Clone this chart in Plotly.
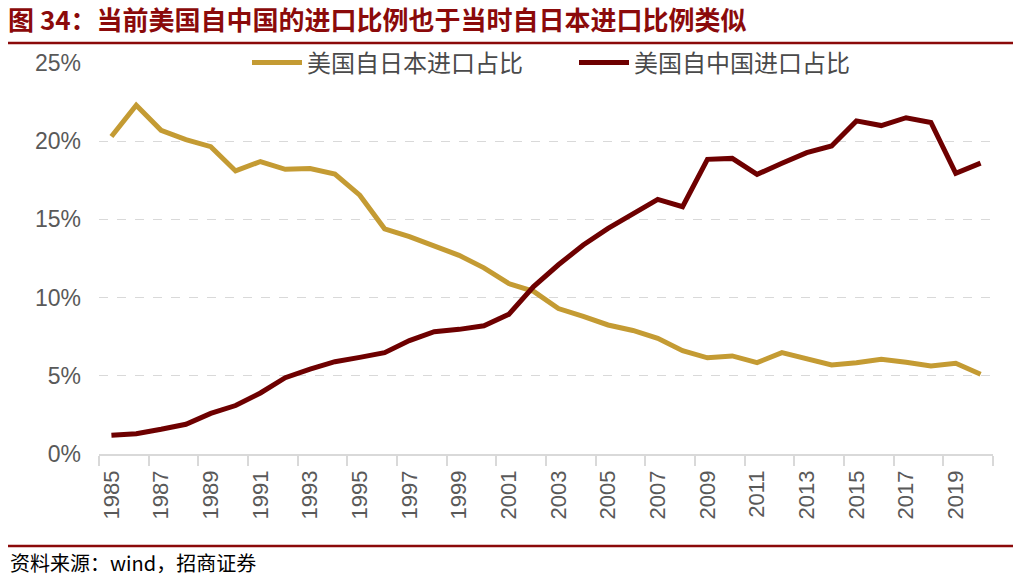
import plotly.graph_objects as go

years = list(range(1985, 2021))
japan_share = [20.3, 22.3, 20.7, 20.1, 19.65, 18.1, 18.7, 18.2, 18.25, 17.9,
               16.55, 14.4, 13.9, 13.3, 12.7, 11.9, 10.9, 10.4, 9.3, 8.8,
               8.25, 7.9, 7.4, 6.6, 6.15, 6.27, 5.84, 6.48, 6.11, 5.69,
               5.84, 6.05, 5.86, 5.63, 5.8, 5.1]
china_share = [1.2, 1.3, 1.58, 1.9, 2.6, 3.1, 3.9, 4.88, 5.43, 5.9,
               6.18, 6.48, 7.25, 7.82, 7.97, 8.2, 8.93, 10.7, 12.1, 13.36,
               14.43, 15.39, 16.28, 15.81, 18.84, 18.9, 17.88, 18.59, 19.27, 19.7,
               21.3, 21.0, 21.5, 21.2, 17.95, 18.6]
series_names = ["美国自日本进口占比", "美国自中国进口占比"]
y_ticks = [0, 5, 10, 15, 20, 25]
y_ticktext = ["0%", "5%", "10%", "15%", "20%", "25%"]
title_text = "图 34：当前美国自中国的进口比例也于当时自日本进口比例类似"
source_text = "资料来源：wind，招商证券"

fig = go.Figure()
fig.add_trace(go.Scatter(x=years, y=japan_share, mode="lines", name=series_names[0],
                         line=dict(color="#C49B33", width=5)))
fig.add_trace(go.Scatter(x=years, y=china_share, mode="lines", name=series_names[1],
                         line=dict(color="#6E0000", width=5)))

W, H = 1030, 577
L, R, T, B = 99, 37, 63, 123
pw, ph = W - L - R, H - T - B

def px_x(p):
    return (p - L) / pw

def px_y(p):
    return (H - B - p) / ph

red = "#8B0A0A"
fig.update_layout(
    width=W, height=H,
    margin=dict(l=L, r=R, t=T, b=B, autoexpand=False),
    paper_bgcolor="white", plot_bgcolor="white",
    font=dict(family="Liberation Sans, Arial, sans-serif", color="#595959"),
    showlegend=True,
    legend=dict(orientation="h", x=px_x(574), xanchor="center", y=1.0, yanchor="middle",
                bgcolor="rgba(0,0,0,0)", font=dict(family="Noto Sans CJK SC", size=24, color="#4A4A4A"),
                itemwidth=50, entrywidth=262, entrywidthmode="pixels", tracegroupgap=0),
    title=dict(text=title_text, xref="container", yref="container",
               x=8 / W, xanchor="left", y=1 - 21 / H, yanchor="middle",
               font=dict(family="Noto Sans CJK SC", size=26, color=red, weight="bold")),
    xaxis=dict(range=[1984.5, 2020.5], tickmode="array", tickvals=years[::2],
               ticktext=[str(y) for y in years[::2]], tickangle=-90,
               ticks="outside", ticklen=6, tickcolor="rgba(0,0,0,0)",
               tickfont=dict(size=22, color="#595959"),
               showgrid=False, showline=True, linecolor="#D9D9D9", linewidth=1.5,
               zeroline=False, automargin=False,
               minor=dict(tickmode="array", tickvals=[1984.5 + 2 * k for k in range(19)],
                          ticks="outside", ticklen=10, tickcolor="#D9D9D9", tickwidth=1.5,
                          showgrid=False)),
    yaxis=dict(range=[0, 25], tickmode="array", tickvals=y_ticks, ticktext=y_ticktext,
               tickfont=dict(size=23, color="#595959"), showgrid=True,
               gridcolor="#D9D9D9", griddash="dash", gridwidth=1.2,
               zeroline=False, showline=False, ticks="", ticklabelstandoff=17,
               automargin=False),
)

fig.add_shape(type="line", xref="paper", yref="paper",
              x0=px_x(8), x1=px_x(1013), y0=px_y(43), y1=px_y(43),
              line=dict(color=red, width=2.5))
fig.add_shape(type="line", xref="paper", yref="paper",
              x0=px_x(8), x1=px_x(1013), y0=px_y(546), y1=px_y(546),
              line=dict(color=red, width=2.5))
fig.add_annotation(text=source_text, xref="paper", yref="paper",
                   x=px_x(8), y=px_y(562), xanchor="left", yanchor="middle",
                   showarrow=False, font=dict(family="Noto Sans CJK SC", size=20, color="#000000"))

fig.write_html("out.html", config={"displayModeBar": False},
               post_script="document.body.style.margin='0';document.body.style.padding='0';"
                           "document.body.style.overflow='hidden';")
